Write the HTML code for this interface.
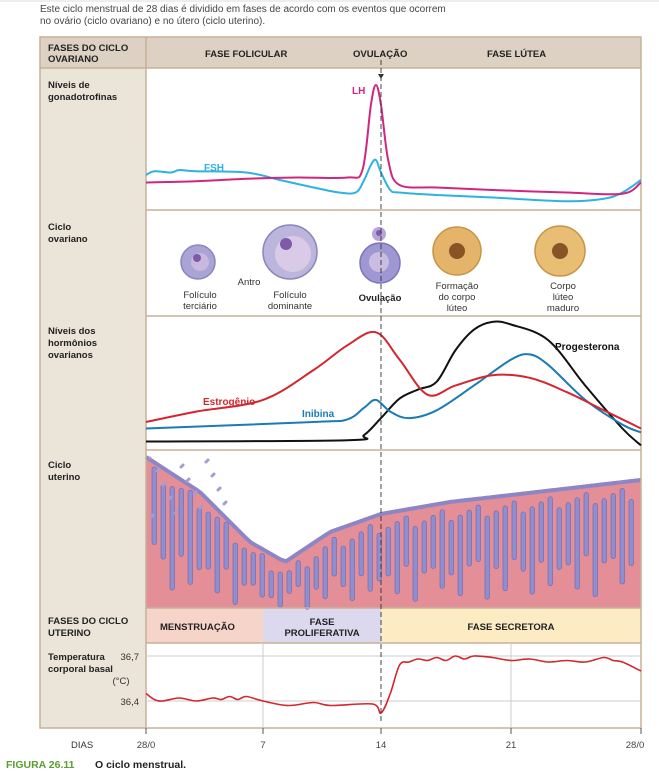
<!DOCTYPE html>
<html><head><meta charset="utf-8">
<style>
body{margin:0;background:#fff;width:659px;height:774px;overflow:hidden;font-family:"Liberation Sans",sans-serif}
svg text{font-family:"Liberation Sans",sans-serif}
</style></head><body>
<svg width="659" height="774" viewBox="0 0 659 774">
<line x1="0" y1="1" x2="659" y2="1" stroke="#ddd"/>
<text x="40" y="12" font-size="10" fill="#444">Este ciclo menstrual de 28 dias é dividido em fases de acordo com os eventos que ocorrem</text>
<text x="40" y="24" font-size="10" fill="#444">no ovário (ciclo ovariano) e no útero (ciclo uterino).</text>

<rect x="40" y="37" width="106" height="691" fill="#ebe4d8"/>
<rect x="40" y="37" width="601" height="31" fill="#dcd1c2"/>
<rect x="146" y="68" width="495" height="540" fill="#fff"/>
<rect x="146" y="643" width="495" height="85" fill="#fff"/>
<rect x="146" y="608" width="117" height="35" fill="#f7d4c9"/>
<rect x="263" y="608" width="118" height="35" fill="#dcd9ee"/>
<rect x="381" y="608" width="260" height="35" fill="#fcebc3"/>
<g id="uterus"></g>
<g stroke="#c7b198" stroke-width="1.5" fill="none">
<rect x="40" y="37" width="601" height="691"/>
<line x1="146" y1="37" x2="146" y2="728"/>
<line x1="40" y1="68" x2="641" y2="68"/>
<line x1="146" y1="210" x2="641" y2="210"/>
<line x1="146" y1="316" x2="641" y2="316"/>
<line x1="146" y1="450" x2="641" y2="450"/>
<line x1="146" y1="608" x2="641" y2="608"/>
<line x1="146" y1="643" x2="641" y2="643"/>
</g>
<g font-size="9.5" font-weight="bold" fill="#222">
<text x="48" y="51">FASES DO CICLO</text><text x="48" y="62">OVARIANO</text>
<text x="205" y="57">FASE FOLICULAR</text><text x="353" y="57">OVULAÇÃO</text><text x="487" y="57">FASE LÚTEA</text>
<text x="48" y="88">Níveis de</text><text x="48" y="100">gonadotrofinas</text>
<text x="48" y="230">Ciclo</text><text x="48" y="242">ovariano</text>
<text x="48" y="334">Níveis dos</text><text x="48" y="346">hormônios</text><text x="48" y="358">ovarianos</text>
<text x="48" y="468">Ciclo</text><text x="48" y="480">uterino</text>
<text x="48" y="624">FASES DO CICLO</text><text x="48" y="636">UTERINO</text>
<text x="48" y="660">Temperatura</text><text x="48" y="672">corporal basal</text>
<text x="160" y="630">MENSTRUAÇÃO</text>
<text x="322" y="625" text-anchor="middle">FASE</text><text x="322" y="636" text-anchor="middle">PROLIFERATIVA</text>
<text x="511" y="630" text-anchor="middle">FASE SECRETORA</text>
</g>
<g font-size="9.5" fill="#333">
<text x="139" y="660" text-anchor="end">36,7</text>
<text x="121" y="684" text-anchor="middle">(°C)</text>
<text x="139" y="705" text-anchor="end">36,4</text>
<text x="71" y="748">DIAS</text>
</g>
<g id="temp-grid" stroke="#ccc" stroke-width="1"></g>
<g id="ovary"></g>
<g id="plots"></g>
<line x1="381" y1="60" x2="381" y2="722" stroke="#333" stroke-dasharray="5,3" stroke-width="0.9"/>
<polygon points="378,74 384,74 381,79" fill="#333"/>
<g id="xticks" font-size="9.5" fill="#444"></g>
<text x="6" y="768" font-size="10.5" font-weight="bold" fill="#5a9e2f">FIGURA 26.11</text>
<text x="95" y="768" font-size="10.5" font-weight="bold" fill="#222">O ciclo menstrual.</text>
</svg>
<script>
const NS="http://www.w3.org/2000/svg";
const tickDays=[0,7,14,21,28];
const tickLabels=["28/0","7","14","21","28/0"];
const lhDays=[0,3,6,9,12,12.9,13.4,13.7,14,14.4,15,17,20,24,27,28];
const lhVals=[18,19,21,22,22,28,80,96,80,35,16,14,12,10,9,18];
const fshDays=[0,0.5,1.5,2,3,6,8,10,11.5,12.5,13,13.4,13.7,14,14.5,15,17,20,24,26,27,28];
const fshVals=[24,27,26,28,27,26,20,14,10,10,20,32,36,26,12,10,8,6,3,5,10,20];
const estDays=[0,3,7,10,12,13.7,15,16.5,18,20,22,24,26,28];
const estVals=[20,28,37,60,79,89,68,41,48,56,54,43,29,15];
const inhDays=[0,10,12,13,13.7,14.5,15.5,17,19,21,22,23,25,27,28];
const inhVals=[15,20,22,31,37,28,23,29,48,68,72,64,37,18,12];
const proDays=[0,12,13,14,15,16,17,18,19,20,21,23,25,27,28];
const proVals=[5,6,10,23,38,45,51,75,91,97,95,83,48,15,2];
const tmpDays=[0,0.5,1,2,3,4,4.5,5,5.5,6,7,8.5,10,11,13.5,14,14.5,15,15.5,16,16.5,17,17.5,18,18.5,19,20,21,22,23,24,25,26,26.5,27,28];
const tmpVals=[36.45,36.41,36.40,36.42,36.40,36.42,36.41,36.43,36.41,36.43,36.40,36.37,36.39,36.37,36.38,36.32,36.45,36.64,36.66,36.68,36.67,36.69,36.67,36.70,36.68,36.70,36.69,36.67,36.68,36.66,36.67,36.66,36.69,36.67,36.66,36.60];
const tickX=[146,263,381,511,641];
function xs(d){for(let i=0;i<4;i++){if(d<=tickDays[i+1]){const t=(d-tickDays[i])/(tickDays[i+1]-tickDays[i]);return tickX[i]+t*(tickX[i+1]-tickX[i]);}}return 641;}
function lin(y0,y1,v0,v1){return v=>y0+(v-v0)/(v1-v0)*(y1-y0);}
const yG=lin(205,80,0,100), yH=lin(448,318,0,100), yT=lin(701,656,36.4,36.7);
function path(ds,vs,ys){const p=ds.map((d,i)=>[xs(d),ys(vs[i])]);let s="M"+p[0][0]+","+p[0][1];
for(let i=0;i<p.length-1;i++){const a=p[i-1]||p[i],b=p[i],c=p[i+1],e=p[i+2]||c;
s+=` C${b[0]+(c[0]-a[0])/6},${b[1]+(c[1]-a[1])/6} ${c[0]-(e[0]-b[0])/6},${c[1]-(e[1]-b[1])/6} ${c[0]},${c[1]}`;}return s;}
const plots=document.getElementById('plots');
function line(ds,vs,ys,col,name,w){const e=document.createElementNS(NS,'path');e.setAttribute('d',path(ds,vs,ys));e.setAttribute('fill','none');e.setAttribute('stroke',col);e.setAttribute('stroke-width',w||2);


plots.appendChild(e);}
function label(x,y,t,col,name){const e=document.createElementNS(NS,'text');e.setAttribute('x',x);e.setAttribute('y',y);e.setAttribute('fill',col);e.setAttribute('font-size','10');e.setAttribute('font-weight','bold');e.textContent=t;


plots.appendChild(e);}
line(fshDays,fshVals,yG,'#2eb3e0','fsh-line');
line(lhDays,lhVals,yG,'#d0267f','lh-line');
label(204,171,'FSH','#2eb3e0','fsh-label');label(352,94,'LH','#d0267f','lh-label');
line(proDays,proVals,yH,'#111','progesterone-line');
line(inhDays,inhVals,yH,'#1b7bb5','inhibin-line');
line(estDays,estVals,yH,'#d3262f','estrogen-line');
label(203,405,'Estrogênio','#d3262f','estrogen-label');label(302,417,'Inibina','#1b7bb5','inhibin-label');
label(555,350,'Progesterona','#111','progesterone-label');
const tg=document.getElementById('temp-grid');
[[146,656,641,656],[146,701,641,701],[263,643,263,728],[511,643,511,728]].forEach(a=>{const l=document.createElementNS(NS,'line');l.setAttribute('x1',a[0]);l.setAttribute('y1',a[1]);l.setAttribute('x2',a[2]);l.setAttribute('y2',a[3]);tg.appendChild(l);});
line(tmpDays,tmpVals,yT,'#d3262f','temperature-line',1.6);
const xt=document.getElementById('xticks');
tickDays.forEach((d,i)=>{const x=xs(d);const l=document.createElementNS(NS,'line');l.setAttribute('x1',x);l.setAttribute('x2',x);l.setAttribute('y1',728);l.setAttribute('y2',734);l.setAttribute('stroke','#555');xt.appendChild(l);
const t=document.createElementNS(NS,'text');t.setAttribute('x',i==4?x-6:x);t.setAttribute('y',748);t.setAttribute('text-anchor','middle');t.textContent=tickLabels[i];


xt.appendChild(t);});
const ut=document.getElementById('uterus');
function topY(x){const pts=[[146,455],[200,490],[250,540],[285,560],[330,530],[381,512],[450,500],[520,492],[641,478]];for(let i=0;i<pts.length-1;i++){if(x<=pts[i+1][0]){const t=(x-pts[i][0])/(pts[i+1][0]-pts[i][0]);return pts[i][1]+t*(pts[i+1][1]-pts[i][1]);}}return 478;}
let d="M146,608";for(let x=146;x<=641;x+=5)d+=` L${x},${topY(x)}`;d+=" L641,608 Z";
const base=document.createElementNS(NS,'path');base.setAttribute('d',d);base.setAttribute('fill','#e48e97');ut.appendChild(base);
let d2="";for(let x=146;x<=641;x+=5)d2+=(x==146?"M":" L")+x+","+(topY(x)+2);
const edge=document.createElementNS(NS,'path');edge.setAttribute('d',d2);edge.setAttribute('fill','none');edge.setAttribute('stroke','#8d86c6');edge.setAttribute('stroke-width','4');ut.appendChild(edge);
for(let x=152;x<638;x+=9){const t=topY(x)+8;const h=(608-t)*((x*7)%5<2?0.8:0.55);
const g=document.createElementNS(NS,'rect');g.setAttribute('x',x);g.setAttribute('y',t+((x*3)%4)*4);g.setAttribute('width',4.5);g.setAttribute('height',Math.max(h,6));g.setAttribute('rx',2.2);g.setAttribute('fill','#8f8fd0');g.setAttribute('stroke','#6b66b0');g.setAttribute('stroke-width','0.6');ut.appendChild(g);
if(x%3==0){const v=document.createElementNS(NS,'line');v.setAttribute('x1',x+6);v.setAttribute('x2',x+7);v.setAttribute('y1',608);v.setAttribute('y2',t+20);v.setAttribute('stroke','#9b1c2a');v.setAttribute('stroke-width','1.2');ut.appendChild(v);}}
for(let i=0;i<40;i++){const c=document.createElementNS(NS,'circle');c.setAttribute('cx',150+(i*37)%80);c.setAttribute('cy',458+(i*23)%60);c.setAttribute('r',1.5);c.setAttribute('fill','#a99ad0');ut.appendChild(c);}
const ov=document.getElementById('ovary');
function circ(cx,cy,r,f,s){const c=document.createElementNS(NS,'circle');c.setAttribute('cx',cx);c.setAttribute('cy',cy);c.setAttribute('r',r);c.setAttribute('fill',f);if(s){c.setAttribute('stroke',s);c.setAttribute('stroke-width',1.5);}ov.appendChild(c);}
circ(198,262,17,'#a9a4d4','#8a86c0');circ(200,262,9,'#c8b8e0');circ(197,258,4,'#7f5aa8');
circ(290,252,27,'#bcb6dc','#8a86c0');circ(293,254,18,'#d9cbe8');circ(286,244,6,'#7f5aa8');
circ(380,263,20,'#9f97d2','#7b73bd');circ(379,262,10,'#c9bde2');circ(379,234,7,'#b9a4d8');circ(379,233,3,'#7f5aa8');
circ(457,251,24,'#e3b46a','#c89445');circ(457,251,8,'#8a5324');
circ(560,251,25,'#e8bd74','#c89445');circ(560,251,8,'#8a5324');
const ovLabels=[[200,298,'Folículo'],[200,309,'terciário'],[249,285,'Antro'],[290,298,'Folículo'],[290,309,'dominante'],[457,289,'Formação'],[457,300,'do corpo'],[457,311,'lúteo'],[563,289,'Corpo'],[563,300,'lúteo'],[563,311,'maduro']];
ovLabels.forEach(a=>{const t=document.createElementNS(NS,'text');t.setAttribute('x',a[0]);t.setAttribute('y',a[1]);t.setAttribute('text-anchor','middle');t.setAttribute('font-size','9.5');t.setAttribute('fill','#333');t.textContent=a[2];


ov.appendChild(t);});
const ovu=document.createElementNS(NS,'text');ovu.setAttribute('x',380);ovu.setAttribute('y',301);ovu.setAttribute('text-anchor','middle');ovu.setAttribute('font-size','9.5');ovu.setAttribute('font-weight','bold');ovu.setAttribute('fill','#222');ovu.textContent='Ovulação';


ov.appendChild(ovu);
</script>
</body></html>
